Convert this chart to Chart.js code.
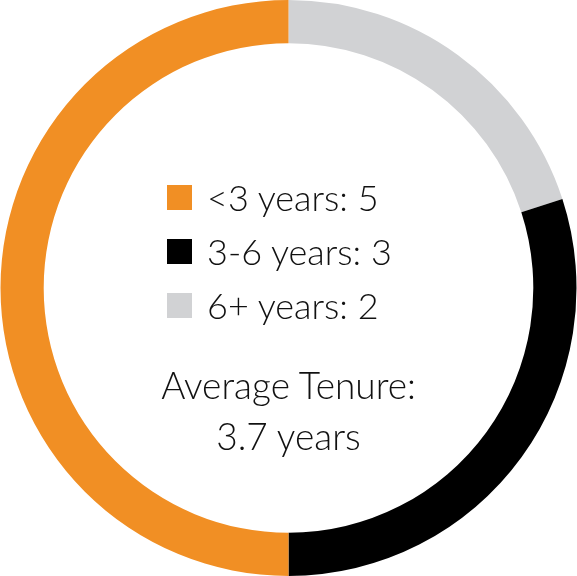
<!DOCTYPE html>
<html>
<head>
<meta charset="utf-8">
<script src="https://cdn.jsdelivr.net/npm/chart.js@4"></script>
<style>
  html, body { margin: 0; padding: 0; background: #fff; }
  #wrap { position: relative; width: 577px; height: 576px; }
  #chart { position: absolute; left: 0; top: 0; }
  .legend { position: absolute; left: 167px; top: 170px; font-family: Lato, sans-serif; font-weight: 300; font-size: 36px; color: #111; }
  .row { height: 54px; display: flex; align-items: center; }
  .box { width: 25px; height: 25px; margin-right: 15px; }
  .avg { position: absolute; left: 0; width: 577px; top: 359px; text-align: center; font-family: Lato, sans-serif; font-weight: 300; font-size: 37px; line-height: 51px; color: #111; }
</style>
</head>
<body>
<div id="wrap">
  <canvas id="chart" width="577" height="576"></canvas>
  <div class="legend" id="legend"></div>
  <div class="avg">Average Tenure:<br>3.7 years</div>
</div>
<script>
const labels = ["<3 years", "3-6 years", "6+ years"];
const counts = [5, 3, 2];
const colors = ["#F18F24", "#000000", "#D1D2D4"];
const averageTenure = 3.7;

// draw order goes clockwise from the top: 6+, 3-6, <3
const order = [2, 1, 0];

const legend = document.getElementById("legend");
labels.forEach((l, i) => {
  const row = document.createElement("div");
  row.className = "row";
  row.innerHTML = '<div class="box" style="background:' + colors[i] + '"></div><span>' + l + ': ' + counts[i] + '</span>';
  legend.appendChild(row);
});

new Chart(document.getElementById("chart"), {
  type: "doughnut",
  data: {
    labels: order.map(i => labels[i]),
    datasets: [{
      data: order.map(i => counts[i]),
      backgroundColor: order.map(i => colors[i]),
      borderWidth: 0
    }]
  },
  options: {
    responsive: false,
    animation: false,
    cutout: "85%",
    layout: { padding: 0 },
    plugins: { legend: { display: false }, tooltip: { enabled: false } }
  }
});
</script>
</body>
</html>
